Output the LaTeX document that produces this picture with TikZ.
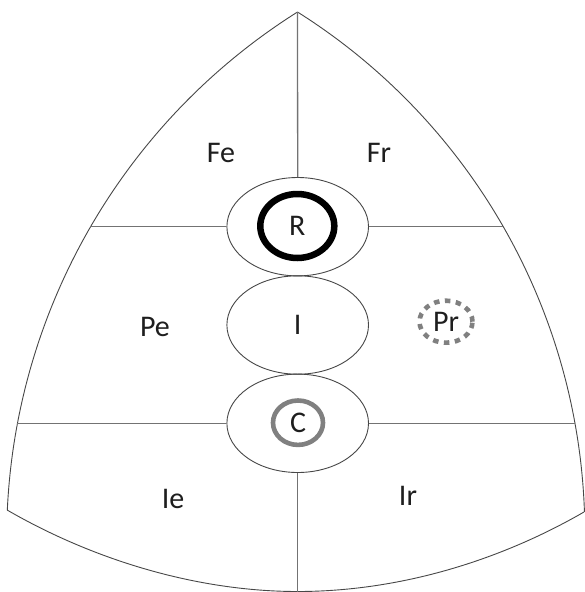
\documentclass[tikz,border=0pt]{standalone}
\usepackage{fontspec}
\setmainfont{Carlito}
\usetikzlibrary{shapes.geometric}
\definecolor{txt}{RGB}{30,30,30}
\definecolor{ringgray}{RGB}{128,128,128}
\begin{document}
\begin{tikzpicture}[x=1pt,y=-1pt,
  frame/.style={draw=black!72,line width=0.9pt},
  divider/.style={draw=black!55,line width=1.3pt},
  lobe/.style={ellipse,draw=black!72,line width=0.9pt,minimum width=141.6pt,minimum height=98.4pt,inner sep=0pt},
  lab/.style={text=txt,font=\fontsize{30}{30}\selectfont,inner sep=0pt},
  ring/.style={ellipse,draw=black,line width=6.5pt},
  grayring/.style={ellipse,draw=ringgray,line width=4.6pt}]
\useasboundingbox (0,0) rectangle (584,592);
% frame
\coordinate (apex) at (297.5,12);
\coordinate (BM) at (297.7,591.5);
\coordinate (BR) at (584,512);
\coordinate (bottom) at (297.7,592);
\draw[frame] (apex) arc[start angle=-122.2,end angle=-177.35,radius=622.7]
  .. controls (93.6,560) and (197,591.5) .. (BM)
  .. controls (397,591.5) and (497.4,562) .. (BR);
\draw[frame] (apex) arc[start angle=-57.76,end angle=-1.945,radius=615.8];
% lobes
\node[lobe] (Rlobe) at (297.7,226.7) {};
\node[lobe] (Ilobe) at (297.7,325) {};
\node[lobe] (Clobe) at (297.7,423.3) {};
% dividers
\coordinate (Lt) at (90.2,226.7);
\coordinate (Rt) at (502.8,226.7);
\coordinate (Lb) at (17.1,423.3);
\coordinate (Rb) at (574.5,423.3);
\draw[divider] (Lt) -- (Rlobe.west);
\draw[divider] (Rlobe.east) -- (Rt);
\draw[divider] (Lb) -- (Clobe.west);
\draw[divider] (Clobe.east) -- (Rb);
\draw[divider] (apex) -- (Rlobe.north);
\draw[divider] (Clobe.south) -- (bottom);
% labels
\node[lab,ring,minimum width=74pt,minimum height=64pt] (R) at (297.3,226) {R};
\node[lab] (I) at (297.7,325) {I};
\node[lab,grayring,minimum width=50pt,minimum height=44.4pt] (C) at (298,422.7) {C};
\node[lab,grayring,dash pattern=on 5.5pt off 5.5pt,minimum width=53pt,minimum height=42pt] (Pr) at (446,321.7) {Pr};
\node[lab] (Fe) at (221,152.5) {Fe};
\node[lab] (Fr) at (379,153) {Fr};
\node[lab] (Pe) at (155,327) {Pe};
\node[lab] (Ie) at (173,499) {Ie};
\node[lab] (Ir) at (408,496) {Ir};
\end{tikzpicture}
\end{document}
